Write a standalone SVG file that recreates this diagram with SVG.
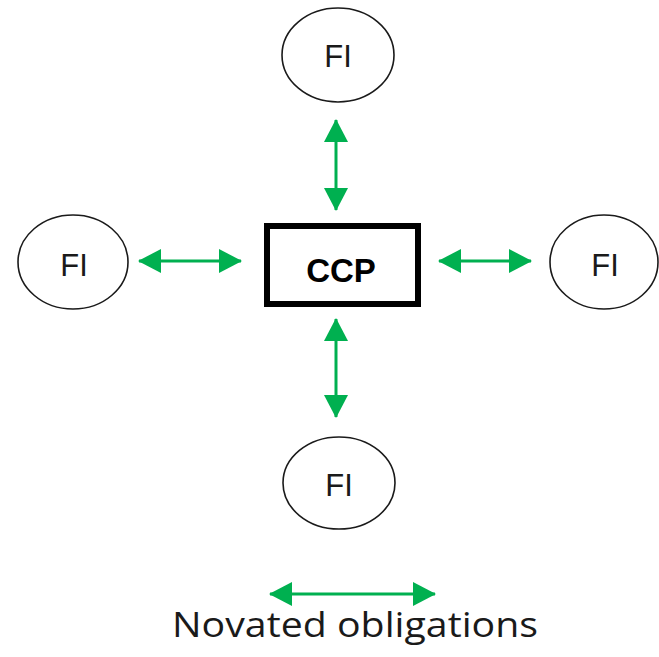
<svg xmlns="http://www.w3.org/2000/svg" width="659" height="657" viewBox="0 0 659 657">
<style>
.fi{fill:#fff;stroke:#1a1a1a;stroke-width:1.6}
.lbl{font-family:"Liberation Sans",Arial,sans-serif;font-size:31px;fill:#1a1a1a;text-anchor:middle}
.ccp{font-family:"Liberation Sans",Arial,sans-serif;font-size:33px;font-weight:bold;fill:#000;text-anchor:middle}
.arr{stroke:#00B050;stroke-width:3;fill:none;marker-start:url(#ah);marker-end:url(#ah)}
</style>
<defs>
<marker id="ah" markerUnits="userSpaceOnUse" markerWidth="24" markerHeight="24" refX="22" refY="12" orient="auto-start-reverse">
<path d="M0,0 L23,12 L0,24 Z" fill="#00B050"/>
</marker>
</defs>
<rect width="659" height="657" fill="#fff"/>
<g id="connectors">
<line class="arr" x1="336" y1="120" x2="336" y2="210"/>
<line class="arr" x1="139" y1="261" x2="241" y2="261"/>
<line class="arr" x1="439" y1="261" x2="531" y2="261"/>
<line class="arr" x1="336" y1="319" x2="336" y2="417"/>
</g>
<g id="fi-top"><ellipse class="fi" cx="338" cy="55" rx="56" ry="47"/><text class="lbl" x="338" y="67">FI</text></g>
<g id="fi-left"><ellipse class="fi" cx="73" cy="262" rx="55" ry="47"/><text class="lbl" x="74" y="276">FI</text></g>
<g id="fi-right"><ellipse class="fi" cx="604" cy="262" rx="54" ry="47"/><text class="lbl" x="605" y="276">FI</text></g>
<g id="fi-bottom"><ellipse class="fi" cx="339" cy="483" rx="56" ry="46"/><text class="lbl" x="339" y="496">FI</text></g>
<g id="ccp"><rect x="267" y="226" width="151" height="78" fill="#fff" stroke="#000" stroke-width="6"/><text class="ccp" x="341" y="282">CCP</text></g>
<g id="legend">
<line class="arr" x1="270" y1="594" x2="435" y2="594"/>
<text x="172" y="637" font-family="'Open Sans',sans-serif" font-size="35" fill="#1a1a1a" textLength="366" lengthAdjust="spacingAndGlyphs">Novated obligations</text>
</g>
</svg>
